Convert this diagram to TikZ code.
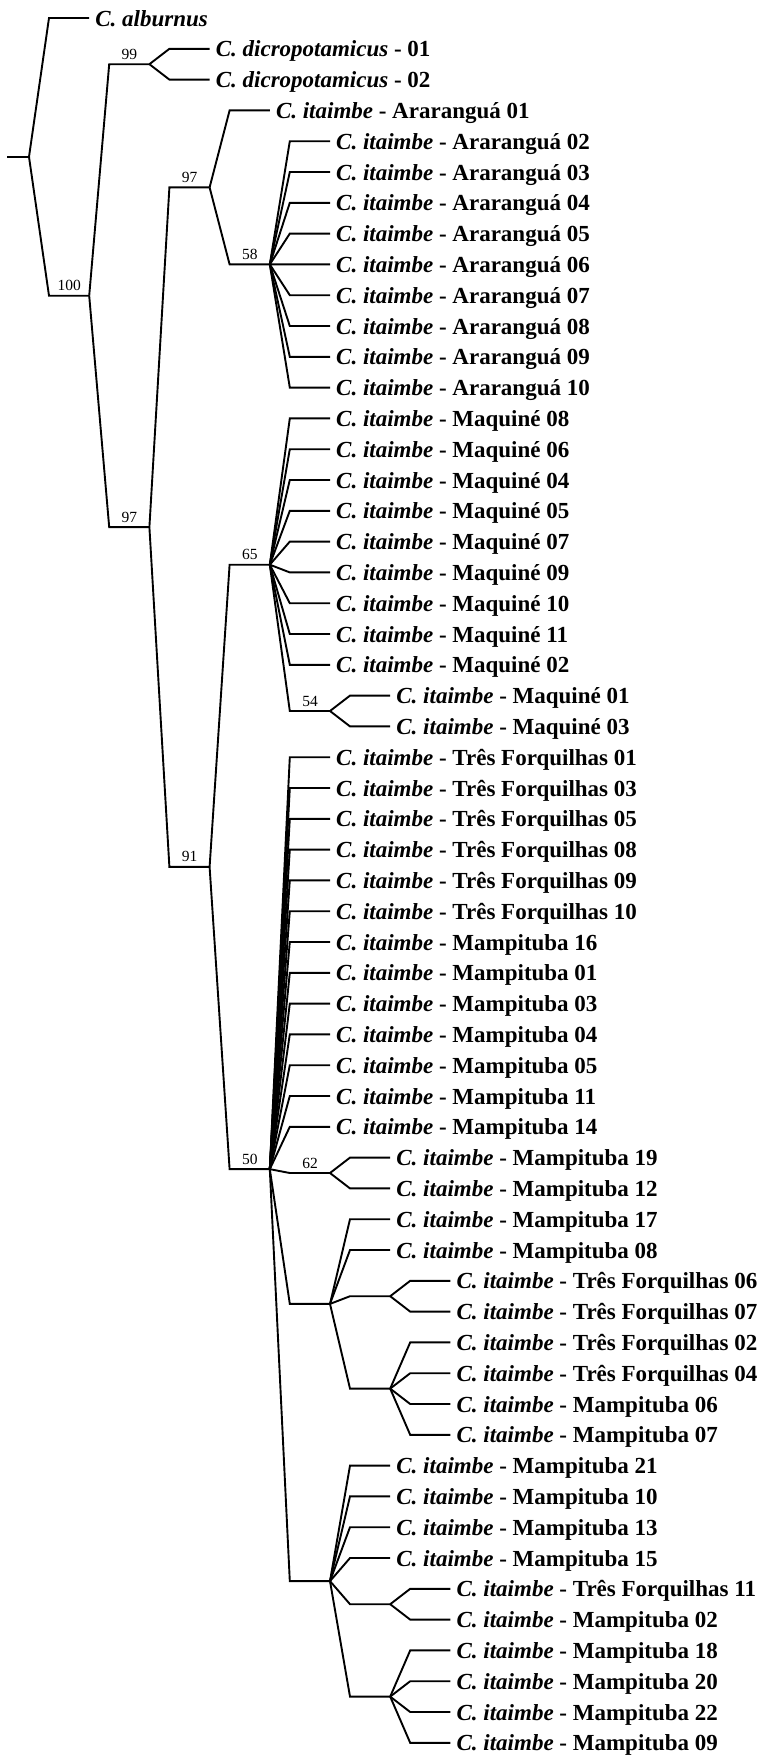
\documentclass[tikz,border=0pt]{standalone}
\usepackage{fontspec}
\setmainfont{Liberation Serif}
\usetikzlibrary{positioning,calc}

\newcommand{\ita}{\textit{C. itaimbe}}
\newcommand{\twig}[2]{\draw[branch] let \p1=(#1), \p2=(#2) in (#1) -- (\x1+20pt,\y2) -- (#2);}

\begin{document}
\begin{tikzpicture}[x=1pt,y=-1pt,
    branch/.style={line width=1.9pt},
    leaf/.style={anchor=west, inner xsep=6pt, inner ysep=0pt, text height=20pt, text depth=4pt, font=\fontsize{23}{26}\selectfont\bfseries},
    boot/.style={anchor=base, inner sep=0pt, font=\fontsize{15.5}{17}\selectfont}]
    \useasboundingbox (0,0) rectangle (766,1759);

    \coordinate (r) at (29,156.85);
    \coordinate [left=22 of r] (stub);
    \coordinate (n100) at (89.2,295.7);
    \coordinate (n99) at (149.4,64.2);
    \coordinate (n97b) at (149.4,527.15);
    \coordinate (n97a) at (209.6,187.4);
    \coordinate (n58) at (269.8,264.4);
    \coordinate (n91) at (209.6,866.9);
    \coordinate (n65) at (269.8,564.7);
    \coordinate (n54) at (330,711);
    \coordinate (n50) at (269.8,1169.15);
    \coordinate (n62) at (330,1173);
    \coordinate (nA) at (330,1303.9);
    \coordinate (nB) at (390.2,1296.2);
    \coordinate (nC) at (390.2,1388.6);
    \coordinate (nD) at (330,1581.1);
    \coordinate (nE) at (390.2,1604.2);
    \coordinate (nF) at (390.2,1696.6);

    \foreach \d/\t [count=\i] in {1/{\textit{C. alburnus}},
        3/{\textit{C. dicropotamicus} - 01}, 3/{\textit{C. dicropotamicus} - 02},
        4/{\ita{} - Araranguá 01},
        5/{\ita{} - Araranguá 02}, 5/{\ita{} - Araranguá 03}, 5/{\ita{} - Araranguá 04},
        5/{\ita{} - Araranguá 05}, 5/{\ita{} - Araranguá 06}, 5/{\ita{} - Araranguá 07},
        5/{\ita{} - Araranguá 08}, 5/{\ita{} - Araranguá 09}, 5/{\ita{} - Araranguá 10},
        5/{\ita{} - Maquiné 08}, 5/{\ita{} - Maquiné 06}, 5/{\ita{} - Maquiné 04},
        5/{\ita{} - Maquiné 05}, 5/{\ita{} - Maquiné 07}, 5/{\ita{} - Maquiné 09},
        5/{\ita{} - Maquiné 10}, 5/{\ita{} - Maquiné 11}, 5/{\ita{} - Maquiné 02},
        6/{\ita{} - Maquiné 01}, 6/{\ita{} - Maquiné 03},
        5/{\ita{} - Três Forquilhas 01}, 5/{\ita{} - Três Forquilhas 03},
        5/{\ita{} - Três Forquilhas 05}, 5/{\ita{} - Três Forquilhas 08},
        5/{\ita{} - Três Forquilhas 09}, 5/{\ita{} - Três Forquilhas 10},
        5/{\ita{} - Mampituba 16}, 5/{\ita{} - Mampituba 01}, 5/{\ita{} - Mampituba 03},
        5/{\ita{} - Mampituba 04}, 5/{\ita{} - Mampituba 05}, 5/{\ita{} - Mampituba 11},
        5/{\ita{} - Mampituba 14},
        6/{\ita{} - Mampituba 19}, 6/{\ita{} - Mampituba 12},
        6/{\ita{} - Mampituba 17}, 6/{\ita{} - Mampituba 08},
        7/{\ita{} - Três Forquilhas 06}, 7/{\ita{} - Três Forquilhas 07},
        7/{\ita{} - Três Forquilhas 02}, 7/{\ita{} - Três Forquilhas 04},
        7/{\ita{} - Mampituba 06}, 7/{\ita{} - Mampituba 07},
        6/{\ita{} - Mampituba 21}, 6/{\ita{} - Mampituba 10},
        6/{\ita{} - Mampituba 13}, 6/{\ita{} - Mampituba 15},
        7/{\ita{} - Três Forquilhas 11}, 7/{\ita{} - Mampituba 02},
        7/{\ita{} - Mampituba 18}, 7/{\ita{} - Mampituba 20},
        7/{\ita{} - Mampituba 22}, 7/{\ita{} - Mampituba 09}}
        \node[leaf] (L\i) at ({29+60.2*\d},{18+30.8*(\i-1)}) {\t};

    \draw[branch] (stub) -- (r);
    \foreach \pa/\ch in {r/L1, r/n100, n100/n99, n100/n97b, n99/L2, n99/L3,
        n97b/n97a, n97b/n91, n97a/L4, n97a/n58, n91/n65, n91/n50, n65/n54,
        n54/L23, n54/L24, n50/n62, n50/nA, n50/nD, n62/L38, n62/L39,
        nA/L40, nA/L41, nA/nB, nA/nC, nB/L42, nB/L43, nD/nE, nD/nF,
        nE/L52, nE/L53}
        \twig{\pa}{\ch};
    \foreach \ch in {5,...,13} \twig{n58}{L\ch};
    \foreach \ch in {14,...,22} \twig{n65}{L\ch};
    \foreach \ch in {25,...,37} \twig{n50}{L\ch};
    \foreach \ch in {44,...,47} \twig{nC}{L\ch};
    \foreach \ch in {48,...,51} \twig{nD}{L\ch};
    \foreach \ch in {54,...,57} \twig{nF}{L\ch};

    \foreach \nd/\v in {n100/100, n99/99, n97b/97, n97a/97, n58/58, n91/91,
        n65/65, n54/54, n50/50, n62/62}
        \node[boot] (b\nd) at ([xshift=-20pt,yshift=5pt]\nd) {\v};
\end{tikzpicture}
\end{document}
